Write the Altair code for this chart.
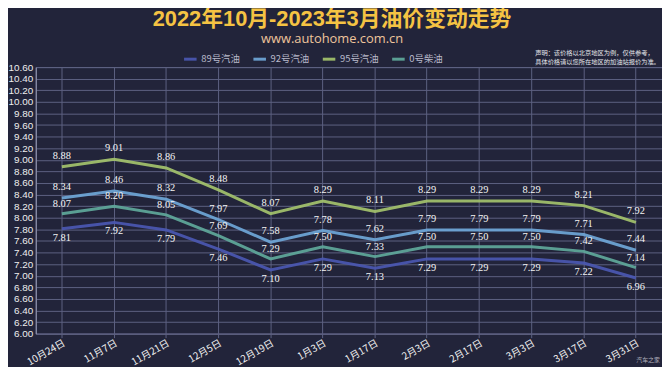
import altair as alt
import pandas as pd

dates = ["10月24日", "11月7日", "11月21日", "12月5日", "12月19日", "1月3日",
         "1月17日", "2月3日", "2月17日", "3月3日", "3月17日", "3月31日"]
series_names = ["89号汽油", "92号汽油", "95号汽油", "0号柴油"]
p89 = [7.81, 7.92, 7.79, 7.46, 7.10, 7.29, 7.13, 7.29, 7.29, 7.29, 7.22, 6.96]
p92 = [8.34, 8.46, 8.32, 7.97, 7.58, 7.78, 7.62, 7.79, 7.79, 7.79, 7.71, 7.44]
p95 = [8.88, 9.01, 8.86, 8.48, 8.07, 8.29, 8.11, 8.29, 8.29, 8.29, 8.21, 7.92]
p0 = [8.07, 8.20, 8.05, 7.69, 7.29, 7.50, 7.33, 7.50, 7.50, 7.50, 7.42, 7.14]
y_ticks = [6.0, 6.2, 6.4, 6.6, 6.8, 7.0, 7.2, 7.4, 7.6, 7.8, 8.0, 8.2, 8.4,
           8.6, 8.8, 9.0, 9.2, 9.4, 9.6, 9.8, 10.0, 10.2, 10.4, 10.6]
colors = ["#4b58b2", "#6fa7d8", "#a4c36c", "#5fa99b"]

rows = []
for name, vals in zip(series_names, [p89, p92, p95, p0]):
    for d, v in zip(dates, vals):
        rows.append({"date": d, "series": name, "price": v})
df = pd.DataFrame(rows)

W, H = 632, 269
BG = "#22243a"
GRID = "#5d6182"

x_enc = alt.X(
    "date:N", sort=dates,
    scale=alt.Scale(type="band", paddingInner=0, paddingOuter=0),
    axis=alt.Axis(title=None, grid=True,
                  gridColor=GRID, gridWidth=1, labelAngle=-30, labelAlign="right",
                  labelBaseline="top", labelColor="#f2f2f2", labelFontSize=10,
                  labelFont="Noto Sans CJK SC", labelPadding=0, tickColor=GRID,
                  tickSize=4, domainColor=GRID),
)
y_enc = alt.Y(
    "price:Q",
    scale=alt.Scale(domain=[6.0, 10.6], nice=False, zero=False),
    axis=alt.Axis(title=None, values=y_ticks, format=".2f", grid=True,
                  gridColor=GRID, gridWidth=1, labelColor="#eeeeee",
                  labelFontSize=10, labelFont="Liberation Sans", labelPadding=3,
                  ticks=False, domainColor="#9a9db5"),
)

lines = alt.Chart(df).mark_line(strokeWidth=3, opacity=0.92).encode(
    x=x_enc, y=y_enc,
    color=alt.Color(
        "series:N", sort=series_names,
        scale=alt.Scale(domain=series_names, range=colors),
        legend=alt.Legend(title=None, orient="none", direction="horizontal",
                          legendX=148, legendY=-16, symbolType="stroke",
                          symbolStrokeWidth=3, symbolSize=160, labelColor="#b9bacb",
                          labelFontSize=9.5, labelFont="Noto Sans CJK SC",
                          columnPadding=6, labelOffset=3),
    ),
)

offsets = {"89号汽油": 9, "92号汽油": -11, "95号汽油": -11, "0号柴油": -10}
texts = []
for name in series_names:
    texts.append(
        alt.Chart(df).transform_filter(alt.datum.series == name)
        .mark_text(dy=offsets[name], color="#f4f4f4", fontSize=10.5,
                   font="Liberation Serif")
        .encode(x=x_enc, y=y_enc, text=alt.Text("price:Q", format=".2f"))
    )

note_df = pd.DataFrame({"t": [["声明：该价格以北京地区为例，仅供参考，",
                               "具体价格请以您所在地区的加油站报价为准。"]]})
note = alt.Chart(note_df).mark_text(
    align="left", baseline="middle", fontSize=6.3, color="#e4e4ea",
    font="Noto Sans CJK SC", lineHeight=8.5,
).encode(text="t:N", x=alt.value(504), y=alt.value(-14))

mark_df = pd.DataFrame({"t": ["汽车之家"]})
wm = alt.Chart(mark_df).mark_text(
    align="left", baseline="middle", fontSize=6, color="#b0b0bc",
    font="Noto Sans CJK SC",
).encode(text="t:N", x=alt.value(606), y=alt.value(296))

chart = alt.layer(lines, *texts, note, wm).properties(
    width=W, height=H,
    background=BG,
    padding={"left": 28, "top": 58, "right": 0, "bottom": 32},
    autosize=alt.AutoSizeParams(type="none"),
    title=alt.TitleParams(
        text="2022年10月-2023年3月油价变动走势",
        subtitle="www.autohome.com.cn",
        anchor="middle", dx=-17, offset=3,
        font="Liberation Sans, Noto Sans CJK SC", fontSize=22, fontWeight="bold",
        color="#f5c343",
        subtitleFont="Open Sans", subtitleFontSize=13, subtitleColor="#efc49c",
        subtitlePadding=2,
    ),
).configure_view(stroke=GRID, strokeWidth=1)

chart.save("out.html", embed_options={"renderer": "svg", "actions": False})
